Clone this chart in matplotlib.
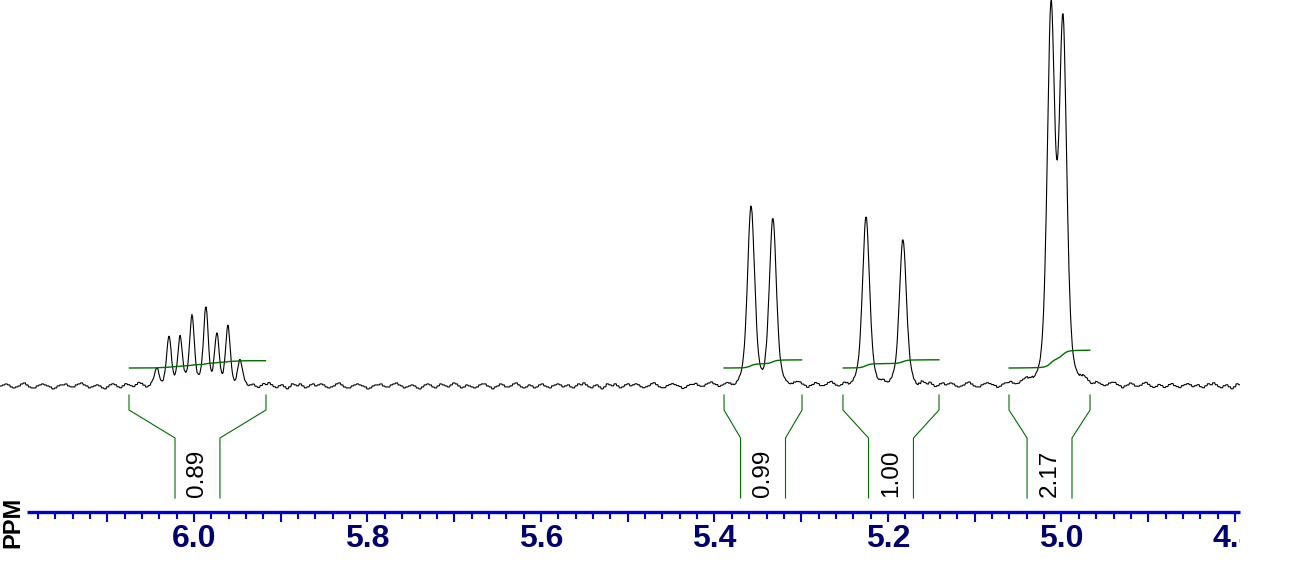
import numpy as np
import matplotlib
matplotlib.use("Agg")
import matplotlib.pyplot as plt
from matplotlib.ticker import FixedLocator, FuncFormatter
from matplotlib.patches import Rectangle

# ---------------- data ----------------
# peak list: chemical shift (ppm), height (intensity units), line width (ppm)
PEAK_PPM = [6.0427, 6.0288, 6.0161, 6.0023, 5.9862, 5.9735, 5.9608, 5.9470,
            5.3579, 5.3326,
            5.2254, 5.1827,
            5.0121, 4.9983]
PEAK_HEIGHT = [18, 46, 49, 70, 78, 50, 57, 24,
               180, 165,
               170, 146,
               372, 357]
PEAK_WIDTH = [0.0064, 0.0064, 0.0064, 0.0064, 0.0064, 0.0064, 0.0064, 0.0064,
              0.0096, 0.0096,
              0.0096, 0.0096,
              0.0102, 0.0102]

# integration regions (ppm, start -> end) and integral values
REGION_START = [6.0749, 5.3890, 5.2519, 5.0605]
REGION_END = [5.9170, 5.2991, 5.1412, 4.9671]
INTEGRALS = [0.89, 0.99, 1.00, 2.17]

# baseline noise (intensity units)
NOISE = [0, 1, 2, 1, -1, -2, -1, 0, 2, 3, 1, -1, -2, -2, 0, 1, 2, 1, 0, -1,
         -3, -2, 0, 1, 1, 2, 0, -1, -1, 1, 2, 3, 1, 0, -2, -1, 0, 1, 0, -2,
         -3, -1, 1, 2, 1, -1, -2, 0, 2, 1, 0, -1, 1, 3, 2, 0, -2, -1, 1, 0,
         -1, -2, -1, 1, 2, 2, 0, -1, -3, -1, 0, 2, 1, -1, -1, 0, 2, 3, 1, -1,
         -2, -1, 1, 0, -2, -1, 1, 2, 0, -1, -2, 0, 1, 2, 1, -1, 0, 1, -1, -2,
         0, 2, 1, 3, 1, -1, -2, 0, 1, -1, -3, -1, 2, 1, 0, 2, 0, -2, -1, 1, 2]

MAJOR_TICKS = [6.1, 6.0, 5.9, 5.8, 5.7, 5.6, 5.5, 5.4, 5.3, 5.2, 5.1, 5.0, 4.9, 4.8]
MINOR_TICKS = [round(6.18 - 0.02 * i, 2) for i in range(70)]

# ---------------- layout ----------------
X_LEFT, X_RIGHT = 6.2236, 4.7343          # figure edges in ppm
SPEC_LEFT, SPEC_RIGHT = 6.2236, 4.7942    # spectrum extent
AX_LEFT, AX_RIGHT = 6.1925, 4.7942        # ppm axis line extent
Y_BOTTOM, Y_TOP = -188, 386
AXIS_Y = -126
INT_BASE = 18
INT_SCALE = 8.2
BR_TOP, BR_KNEE, BR_INNER, BR_BOTTOM = -9, -24, -52, -112
INNER_HALF = 0.0259

GREEN = "#006e00"
BLUE = "#0000cc"
NAVY = "#00006e"

plt.rcParams['font.family'] = ['Liberation Sans', 'DejaVu Sans']

fig = plt.figure(figsize=(12.92, 5.74), dpi=100)
ax = fig.add_axes([0, 0, 1, 1])
ax.set_xlim(X_LEFT, X_RIGHT)
ax.set_ylim(Y_BOTTOM, Y_TOP)

# spectrum
step = 0.00075
x = np.arange(SPEC_LEFT, SPEC_RIGHT, -step)
peaks = np.zeros_like(x)
eta = 0.35
for p, h, w in zip(PEAK_PPM, PEAK_HEIGHT, PEAK_WIDTH):
    d = (x - p) / w
    g = np.exp(-4 * np.log(2) * d ** 2)
    l = 1.0 / (1.0 + 4 * d ** 2)
    peaks += h * ((1 - eta) * g + eta * l)
noise = np.resize(np.repeat(np.array(NOISE, float), 4), len(x))
y = peaks + noise
ax.plot(x, y, color="black", lw=0.8)

# integrals and brackets
for a, b, val in zip(REGION_START, REGION_END, INTEGRALS):
    m = (x <= a) & (x >= b)
    xs = x[m]
    cs = np.cumsum(np.clip(peaks[m], 0, None))
    cs = cs / cs[-1]
    ax.plot(xs, INT_BASE + cs * val * INT_SCALE, color=GREEN, lw=1.0)
    c = (a + b) / 2
    li, ri = c + INNER_HALF, c - INNER_HALF
    ax.plot([a, a, li, li], [BR_TOP, BR_KNEE, BR_INNER, BR_BOTTOM], color=GREEN, lw=0.8)
    ax.plot([b, b, ri, ri], [BR_TOP, BR_KNEE, BR_INNER, BR_BOTTOM], color=GREEN, lw=0.8)
    ax.text(c, BR_BOTTOM + 1, f"{val:.2f}", rotation=90, ha="center", va="bottom",
            fontsize=17.5, color="black")

# ppm axis
for s in ["top", "left", "right"]:
    ax.spines[s].set_visible(False)
ax.spines["bottom"].set_position(("data", AXIS_Y))
ax.spines["bottom"].set_bounds(AX_LEFT, AX_RIGHT)
ax.spines["bottom"].set_color(BLUE)
ax.spines["bottom"].set_linewidth(2.4)
ax.spines["bottom"].set_capstyle("butt")
ax.yaxis.set_visible(False)
ax.xaxis.set_major_locator(FixedLocator(MAJOR_TICKS))
ax.xaxis.set_minor_locator(FixedLocator(MINOR_TICKS))
ax.xaxis.set_major_formatter(FuncFormatter(
    lambda v, pos: f"{v:.1f}" if round(v * 10) % 2 == 0 else ""))
ax.tick_params(axis="x", which="major", direction="out", length=7.5, width=1.5,
               color=BLUE, labelcolor=NAVY, labelsize=23, pad=1)
ax.tick_params(axis="x", which="minor", direction="out", length=5.0, width=1.5,
               color=BLUE)

ax.text(0.0100, 0.0904, "PPM", transform=ax.transAxes, rotation=90, ha="center",
        va="center", fontsize=17, fontweight="bold", color="black")

fig.canvas.draw()
clip = Rectangle((SPEC_RIGHT, Y_BOTTOM), SPEC_LEFT - SPEC_RIGHT, Y_TOP - Y_BOTTOM,
                 transform=ax.transData, fill=False)
for t in ax.xaxis.get_major_ticks():
    t.label1.set_clip_path(clip)
    t.label1.set_fontweight("bold")

fig.savefig("out.png", dpi=100)
